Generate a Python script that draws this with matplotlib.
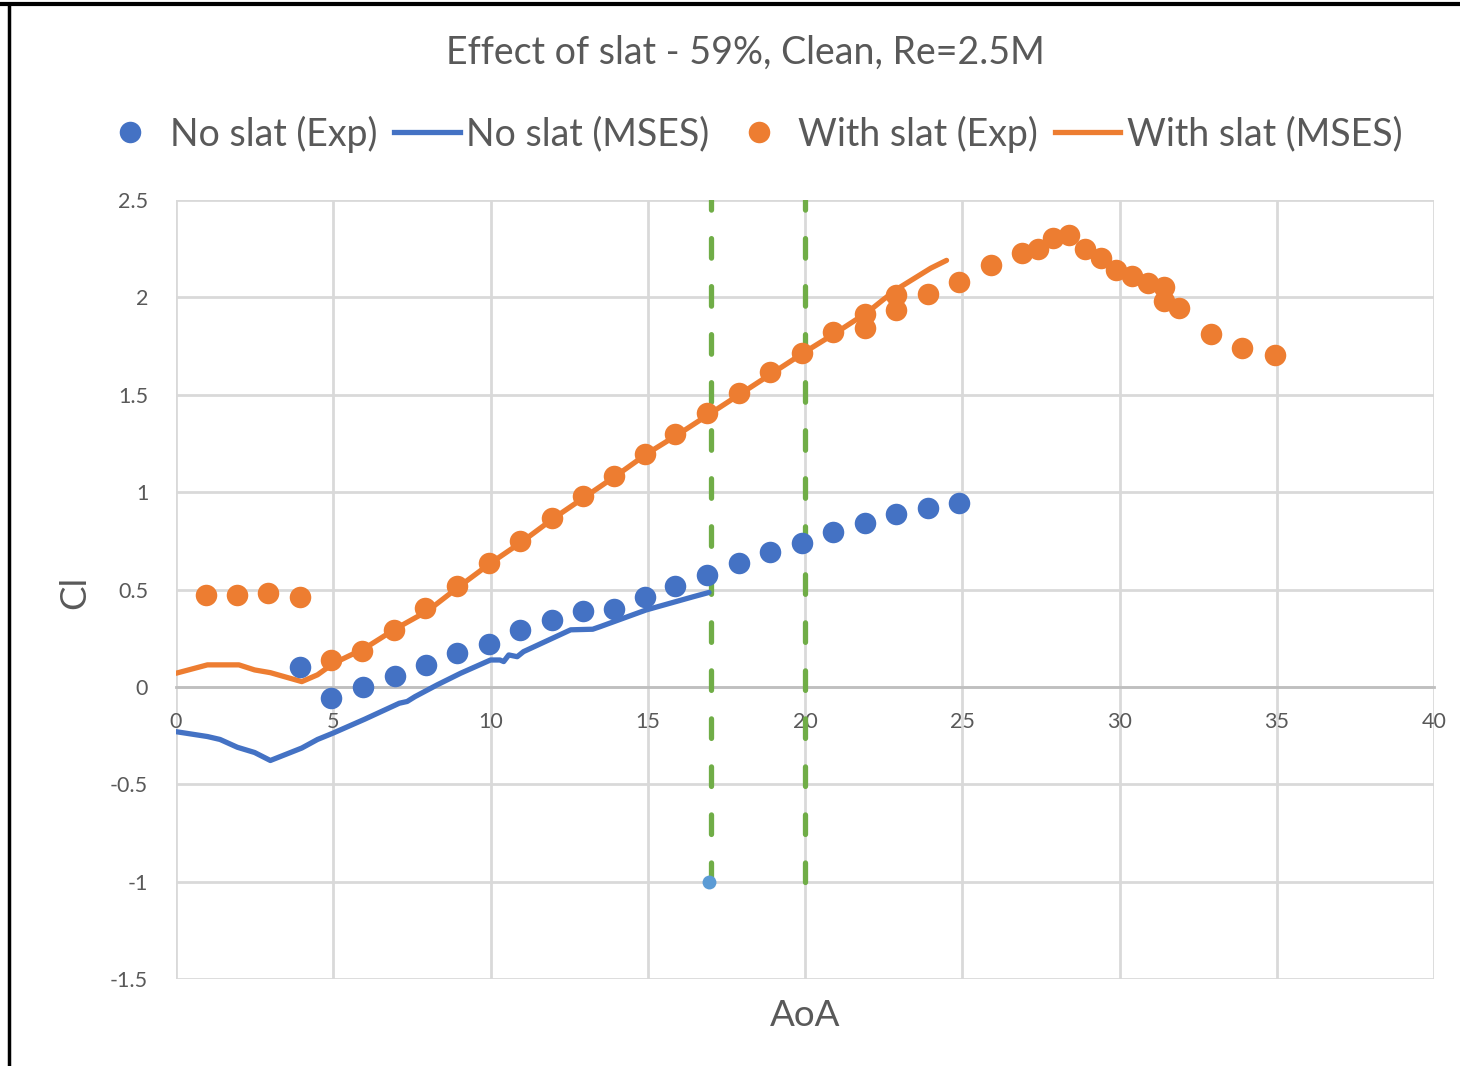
import numpy as np
import matplotlib
matplotlib.use('Agg')
import matplotlib.pyplot as plt
from matplotlib.lines import Line2D

plt.rcParams['font.family'] = ['Lato', 'DejaVu Sans']

# experimental points, no slat
noslat_exp_x = [3.94, 4.94, 5.95, 6.95, 7.94, 8.94, 9.95, 10.95, 11.95, 12.95, 13.94,
                14.9, 15.88, 16.88, 17.9, 18.9, 19.89, 20.9, 21.9, 22.9, 23.9, 24.9]
noslat_exp_y = [0.104, -0.058, 0.0, 0.056, 0.113, 0.173, 0.222, 0.29, 0.344, 0.391, 0.40,
                0.463, 0.518, 0.576, 0.634, 0.69, 0.737, 0.793, 0.84, 0.887, 0.92, 0.945]

# MSES, no slat
noslat_mses_x = [0, 1.0, 1.4, 1.95, 2.5, 3.0, 4.0, 4.5, 5.0, 6.0, 7.1, 7.35, 7.6, 8.3,
                 9.05, 10.0, 10.3, 10.42, 10.58, 10.85, 11.05, 12.55, 13.25, 13.5,
                 14.95, 16.45, 16.95]
noslat_mses_y = [-0.23, -0.255, -0.27, -0.31, -0.337, -0.378, -0.314, -0.27, -0.237,
                 -0.166, -0.084, -0.075, -0.05, 0.01, 0.07, 0.138, 0.138, 0.13, 0.164,
                 0.155, 0.181, 0.293, 0.296, 0.31, 0.395, 0.463, 0.485]

# experimental points, with slat
slat_exp_x = [0.94, 1.94, 2.93, 3.94, 4.94, 5.92, 6.93, 7.93, 8.94, 9.95, 10.93, 11.96,
              12.95, 13.94, 14.9, 15.88, 16.88, 17.9, 18.88, 19.89, 20.9, 21.9, 21.9,
              22.9, 22.9, 23.9, 24.9, 25.9, 26.9, 27.4, 27.9, 28.4, 28.9, 29.4, 29.9,
              30.4, 30.9, 31.4, 31.4, 31.9, 32.9, 33.9, 34.93]
slat_exp_y = [0.472, 0.472, 0.48, 0.463, 0.138, 0.185, 0.29, 0.404, 0.518, 0.634, 0.749,
              0.865, 0.979, 1.082, 1.198, 1.30, 1.405, 1.51, 1.617, 1.716, 1.822, 1.916,
              1.845, 2.01, 1.937, 2.015, 2.08, 2.167, 2.227, 2.246, 2.306, 2.318, 2.25,
              2.204, 2.142, 2.11, 2.073, 2.053, 1.981, 1.947, 1.81, 1.74, 1.706]

# MSES, with slat
slat_mses_x = [0, 1.0, 2.0, 2.5, 3.0, 4.0, 4.5, 5.0, 6.0, 7.0, 8.0, 9.0, 10.0, 11.0,
               12.0, 13.0, 14.0, 15.0, 16.0, 17.0, 18.0, 19.0, 20.0, 21.0, 22.0, 22.5,
               23.0, 23.5, 24.0, 24.5]
slat_mses_y = [0.07, 0.113, 0.113, 0.087, 0.073, 0.027, 0.062, 0.12, 0.198, 0.30, 0.39,
               0.515, 0.635, 0.745, 0.865, 0.975, 1.085, 1.2, 1.3, 1.405, 1.51, 1.615,
               1.72, 1.82, 1.925, 1.99, 2.05, 2.10, 2.15, 2.19]

# reference lines
vline_x = [17, 20]
vline_y0, vline_y1 = -1, 2.5
extra_x, extra_y = [16.96], [-1.0]

BLUE = '#4472C4'
ORANGE = '#ED7D31'
GREEN = '#70AD47'
TXT = '#595959'
GRID = '#D9D9D9'
LW = 3.8
MS = 15.5

fig = plt.figure(figsize=(14.6, 10.66), dpi=100)
ax = fig.add_axes([176 / 1460, 1 - 979 / 1066, (1434 - 176) / 1460, (979 - 200) / 1066])

for xv in vline_x:
    ax.plot([xv, xv], [vline_y0, vline_y1], color=GREEN, lw=3.8,
            linestyle=(0, (3.7, 5.4)), dash_capstyle='round', zorder=2)

ax.plot(noslat_mses_x, noslat_mses_y, color=BLUE, lw=LW, solid_capstyle='round',
        solid_joinstyle='round', zorder=3)
ax.plot(slat_mses_x, slat_mses_y, color=ORANGE, lw=LW, solid_capstyle='round',
        solid_joinstyle='round', zorder=3)
ax.plot(noslat_exp_x, noslat_exp_y, 'o', color=BLUE, ms=MS, mew=0, zorder=4)
ax.plot(slat_exp_x, slat_exp_y, 'o', color=ORANGE, ms=MS, mew=0, zorder=4)
ax.plot(extra_x, extra_y, 'o', color='#5B9BD5', ms=10, mew=0, zorder=5)

ax.set_xlim(0, 40)
ax.set_ylim(-1.5, 2.5)
ax.set_xticks(np.arange(0, 41, 5))
ax.set_yticks(np.arange(-1.5, 2.51, 0.5))
ax.set_yticklabels(['-1.5', '-1', '-0.5', '0', '0.5', '1', '1.5', '2', '2.5'])
ax.grid(True, color=GRID, lw=2)
ax.set_axisbelow(True)
for s in ['top', 'right', 'left']:
    ax.spines[s].set_visible(False)
ax.spines['bottom'].set_position(('data', 0))
ax.spines['bottom'].set_color('#BFBFBF')
ax.spines['bottom'].set_linewidth(2)
ax.spines['bottom'].set_zorder(1)
ax.tick_params(axis='both', length=0, labelsize=15.5, labelcolor=TXT)
ax.tick_params(axis='x', pad=18)
ax.tick_params(axis='y', pad=20)

fig.text(805 / 1460, 1 - 1015 / 1066, 'AoA', ha='center', va='center', fontsize=26.5, color=TXT)
fig.text(75 / 1460, 1 - 592 / 1066, 'Cl', ha='center', va='center', fontsize=26.5,
         color=TXT, rotation=90)
fig.text(745 / 1460, 1 - 53 / 1066, 'Effect of slat - 59%, Clean, Re=2.5M', ha='center',
         va='center', fontsize=27, color=TXT)

handles = [
    Line2D([], [], marker='o', ls='none', color=BLUE, ms=MS, mew=0),
    Line2D([], [], color=BLUE, lw=LW),
    Line2D([], [], marker='o', ls='none', color=ORANGE, ms=MS, mew=0),
    Line2D([], [], color=ORANGE, lw=LW),
]
labels = ['No slat (Exp)', 'No slat (MSES)', 'With slat (Exp)', 'With slat (MSES)']
leg = fig.legend(handles, labels, ncol=4, loc='center', bbox_to_anchor=(750 / 1460, 1 - 134 / 1066),
                 frameon=False, fontsize=27, handlelength=1.75, handletextpad=0.17,
                 columnspacing=0.45, labelcolor=TXT)

# outer frame lines of the screenshot
fig.add_artist(Line2D([0, 1], [1 - 4 / 1066, 1 - 4 / 1066], color='black', lw=3,
                      transform=fig.transFigure))
fig.add_artist(Line2D([9 / 1460, 9 / 1460], [0, 1 - 4 / 1066], color='black', lw=2.5,
                      transform=fig.transFigure))

fig.savefig('out.png', dpi=100)
